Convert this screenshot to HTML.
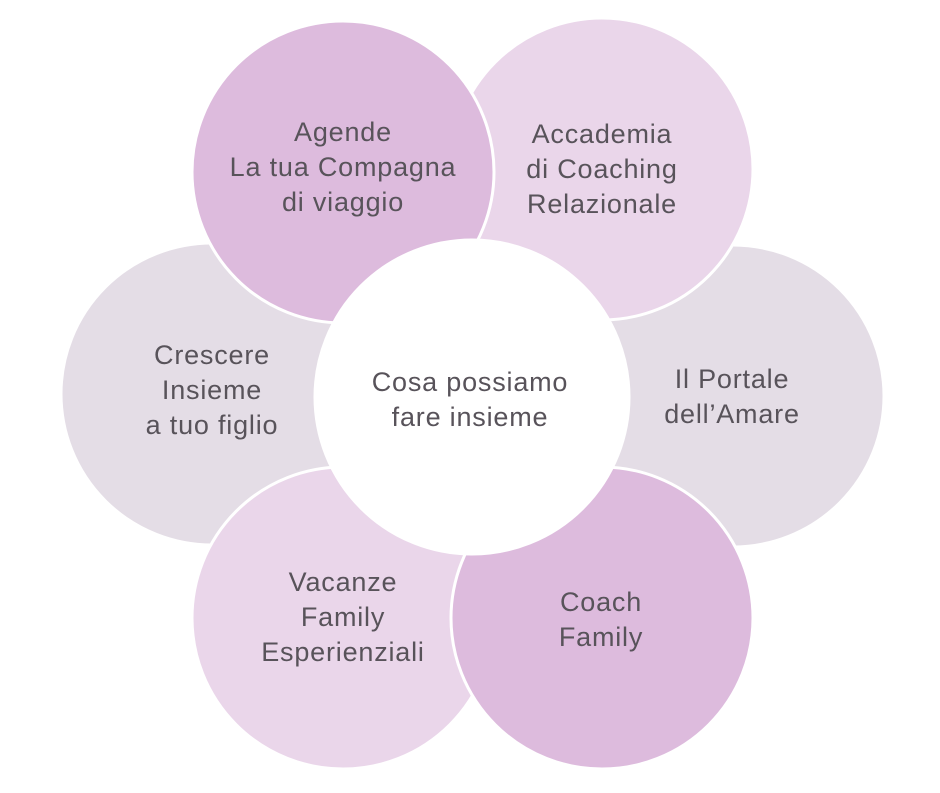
<!DOCTYPE html>
<html><head><style>
html,body{margin:0;padding:0;background:#fff;}
svg text{font-family:"Liberation Sans",sans-serif;font-size:27px;letter-spacing:0.8px;fill:#58535a;text-anchor:middle;}
</style></head><body>
<svg width="940" height="788" viewBox="0 0 940 788">
<g stroke="#fff" stroke-width="3">
<circle cx="733" cy="396" r="151" fill="#e4dde6"/>
<circle cx="212" cy="394" r="151" fill="#e4dde6"/>
<circle cx="602" cy="169" r="151" fill="#ead6ea"/>
<circle cx="343" cy="618" r="151" fill="#ead6ea"/>
<circle cx="602" cy="618" r="151" fill="#ddbbdd"/>
<circle cx="343" cy="172" r="151" fill="#ddbbdd"/>
<circle cx="472" cy="397" r="157" fill="#fff"/>
</g>
<text x="343" y="141">Agende</text>
<text x="343" y="176">La tua Compagna</text>
<text x="343" y="211">di viaggio</text>
<text x="602" y="143">Accademia</text>
<text x="602" y="178">di Coaching</text>
<text x="602" y="213">Relazionale</text>
<text x="732" y="388">Il Portale</text>
<text x="732" y="423">dell’Amare</text>
<text x="212" y="364">Crescere</text>
<text x="212" y="399">Insieme</text>
<text x="212" y="434">a tuo figlio</text>
<text x="470" y="391">Cosa possiamo</text>
<text x="470" y="426">fare insieme</text>
<text x="343" y="591">Vacanze</text>
<text x="343" y="626">Family</text>
<text x="343" y="661">Esperienziali</text>
<text x="601" y="611">Coach</text>
<text x="601" y="646">Family</text>
</svg>
</body></html>
